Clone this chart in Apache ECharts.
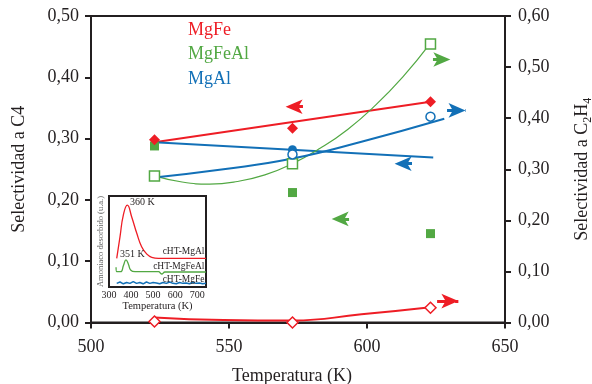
<!DOCTYPE html>
<html>
<head>
<meta charset="utf-8">
<script src="https://cdn.jsdelivr.net/npm/echarts@6/dist/echarts.min.js"></script>
<style>
  html, body { margin: 0; background: #fff; }
  #chart { width: 592px; height: 384px; }
</style>
</head>
<body>
<div id="chart"></div>
<script>
// temperaturas de reacción (K)
const temps = [523, 573, 623]

// selectividad a C4 (eje izquierdo, símbolos llenos)
const c4MgFe = [0.298, 0.317, 0.360]
const c4MgFeAl = [0.288, 0.212, 0.145]
const c4MgAl = [null, 0.282, null]

// selectividad a C2H4 (eje derecho, símbolos vacíos)
const c2MgFe = [0.002, 0.000, 0.029]
const c2MgFeAl = [0.287, 0.311, 0.545]
const c2MgAl = [null, 0.329, 0.403]

// líneas de tendencia
const fitC4MgFeT = [523, 623]
const fitC4MgFe = [0.294, 0.360]
const fitC4MgAlT = [523, 624]
const fitC4MgAl = [0.294, 0.269]
const fitC2MgFeAlT = [523, 533, 543, 553, 563, 573, 583, 593, 603, 613, 623]
const fitC2MgFeAl = [0.287, 0.275, 0.271, 0.276, 0.289, 0.311, 0.341, 0.378, 0.425, 0.481, 0.547]
const fitC2MgAlT = [523, 548, 573, 598, 628]
const fitC2MgAl = [0.284, 0.300, 0.321, 0.354, 0.399]
const fitC2MgFeT = [523, 548, 573, 598, 623]
const fitC2MgFe = [0.010, 0.005, 0.004, 0.016, 0.030]

// flechas (cola, punta) en unidades del eje izquierdo
const arrows = [
  { color: 'red', from: [576.8, 0.352], to: [567.4, 0.352] },
  { color: 'green', from: [623.9, 0.429], to: [633.3, 0.429] },
  { color: 'blue', from: [629.0, 0.346], to: [638.8, 0.346] },
  { color: 'blue', from: [616.3, 0.259], to: [606.9, 0.259] },
  { color: 'green', from: [593.5, 0.169], to: [584.1, 0.169] },
  { color: 'red', from: [625.4, 0.035], to: [636.2, 0.035] },
]

// recuadro TPD de amoniaco
const tpdT = [335, 350, 365, 383, 403, 426, 448, 471, 494, 524, 740]
const tpdMgAl = [31.5, 55.3, 79, 90, 77, 59, 44.3, 36.3, 32.6, 31.5, 31.5]
const tpdFeAlT = [332, 335, 353, 366, 377, 388, 398, 418, 524, 539, 554, 740]
const tpdMgFeAl = [21.6, 16.8, 16.8, 24, 29.7, 25, 18.7, 16.8, 16.8, 14.3, 16.5, 16.5]
const tpdFeT = [335, 350, 365, 380, 395, 410, 425, 440, 455, 470, 485, 500, 515, 530,
  545, 560, 575, 590, 605, 620, 635, 650, 665, 680, 695, 710, 725, 740]
const tpdMgFe = [4, 5.5, 3.5, 5, 4, 6, 4, 5, 3.5, 5.5, 4, 5, 4.5, 3.5,
  5, 4, 5.5, 4, 3.5, 5, 4, 4.5, 3.5, 5, 4, 4.5, 3.5, 4]

const legendNames = ['MgFe', 'MgFeAl', 'MgAl']

const ink = '#231f20'
const colors = { red: '#ee1d25', green: '#52a843', blue: '#1270b7' }
const serif = "'Liberation Serif', 'DejaVu Serif', serif"

const pairs = (xs, ys) => xs.map((x, i) => [x, ys[i]]).filter(p => p[1] != null)
const fmt = v => v.toFixed(2).replace('.', ',')

const chart = echarts.init(document.getElementById('chart'))

const headK = 3.1 // medio largo de la punta, en K
const arrowLines = arrows.map(a => {
  const dir = a.to[0] > a.from[0] ? 1 : -1
  return [
    { coord: a.from, symbol: 'none' },
    {
      coord: [a.to[0] - dir * headK, a.to[1]],
      symbol: 'arrow',
      symbolSize: [11, 17],
      lineStyle: { color: colors[a.color], width: 3 },
      itemStyle: { color: colors[a.color] },
    },
  ]
})

const axisCommon = {
  axisLine: { lineStyle: { color: ink, width: 2 } },
  axisTick: { length: 6, lineStyle: { color: ink, width: 2 } },
  splitLine: { show: false },
  nameLocation: 'middle',
  nameTextStyle: { color: ink, fontFamily: serif, fontSize: 18 },
}

const lineS = (name, xs, ys, color, width, yIdx) => ({
  name, type: 'line', xAxisIndex: 0, yAxisIndex: yIdx,
  data: pairs(xs, ys), smooth: true, symbol: 'none',
  lineStyle: { color, width }, z: 2,
})

const scatterS = (name, ys, symbol, size, color, open, yIdx) => ({
  name, type: 'scatter', xAxisIndex: 0, yAxisIndex: yIdx,
  data: pairs(temps, ys), symbol, symbolSize: size,
  itemStyle: open
    ? { color: '#fff', borderColor: color, borderWidth: 1.5, opacity: 1 }
    : { color, opacity: 1 },
  z: 4,
})

chart.setOption({
  animation: false,
  grid: [
    { left: 91, right: 87, top: 16, bottom: 61.5, show: true, borderColor: ink, borderWidth: 2,
      outerBoundsMode: 'none', containLabel: false },
    { left: 109, top: 196, width: 97, height: 91, show: true, borderColor: ink,
      borderWidth: 2, backgroundColor: '#fff', z: 5, outerBoundsMode: 'none', containLabel: false },
  ],
  xAxis: [
    {
      ...axisCommon, gridIndex: 0, type: 'value', min: 500, max: 650, interval: 50,
      axisLabel: { color: ink, fontFamily: serif, fontSize: 18, margin: 16 },
      name: 'Temperatura (K)', nameGap: 45,
      nameTextStyle: { ...axisCommon.nameTextStyle, padding: [0, 12, 0, 0] },
    },
    {
      gridIndex: 1, type: 'value', min: 300, max: 740, interval: 100, z: 6,
      axisLine: { show: false }, axisTick: { show: false }, splitLine: { show: false },
      axisLabel: { color: ink, fontFamily: serif, fontSize: 10, margin: 3, showMaxLabel: false },
      name: 'Temperatura (K)', nameLocation: 'middle', nameGap: 13,
      nameTextStyle: { color: ink, fontFamily: serif, fontSize: 10.5 },
    },
  ],
  yAxis: [
    {
      ...axisCommon, gridIndex: 0, type: 'value', min: 0, max: 0.5, interval: 0.1, position: 'left',
      axisLabel: { color: ink, fontFamily: serif, fontSize: 18, margin: 12, formatter: fmt },
      name: 'Selectividad a C4', nameGap: 63,
    },
    {
      ...axisCommon, gridIndex: 0, type: 'value', min: 0, max: 0.6, interval: 0.1, position: 'right',
      axisLabel: { color: ink, fontFamily: serif, fontSize: 18, margin: 13, formatter: fmt },
      name: '{n|Selectividad a C}{s|2}{n|H}{s|4}', nameGap: 65,
      nameTextStyle: {
        color: ink, fontFamily: serif, fontSize: 18,
        rich: {
          n: { fontFamily: serif, fontSize: 18, color: ink, lineHeight: 24 },
          s: { fontFamily: serif, fontSize: 12, color: ink, verticalAlign: 'bottom' },
        },
      },
    },
    {
      gridIndex: 1, type: 'value', min: 0, max: 100, z: 6,
      axisLine: { show: false }, axisTick: { show: false }, axisLabel: { show: false },
      splitLine: { show: false },
      name: 'Amoniaco desorbido (u.a.)', nameLocation: 'middle', nameGap: 4,
      nameTextStyle: { color: '#666', fontFamily: serif, fontSize: 8.5 },
    },
  ],
  graphic: [
    ...legendNames.map((t, i) => ({
      type: 'text', left: 188, top: 21 + i * 24.5,
      style: { text: t, fill: colors[['red', 'green', 'blue'][i]], font: `18px ${serif}` },
    })),
    { type: 'text', left: 130, top: 197, z: 20,
      style: { text: '360 K', fill: ink, font: `10px ${serif}` } },
    { type: 'text', left: 120, top: 249.5, z: 20,
      style: { text: '351 K', fill: ink, font: `10px ${serif}` } },
    ...[['cHT-MgAl', 246.5], ['cHT-MgFeAl', 261], ['cHT-MgFe', 274]].map(([t, y]) => ({
      type: 'text', right: 592 - 204.5, top: y, z: 20,
      style: { text: t, fill: ink, font: `9.5px ${serif}` },
    })),
  ],
  series: [
    lineS('MgFe C4 fit', fitC4MgFeT, fitC4MgFe, colors.red, 2, 0),
    lineS('MgAl C4 fit', fitC4MgAlT, fitC4MgAl, colors.blue, 2, 0),
    lineS('MgFeAl C2H4 fit', fitC2MgFeAlT, fitC2MgFeAl, colors.green, 1.2, 1),
    lineS('MgAl C2H4 fit', fitC2MgAlT, fitC2MgAl, colors.blue, 2, 1),
    lineS('MgFe C2H4 fit', fitC2MgFeT, fitC2MgFe, colors.red, 2, 1),
    scatterS('MgFeAl C4', c4MgFeAl, 'rect', 9, colors.green, false, 0),
    scatterS('MgAl C4', c4MgAl, 'circle', 9, colors.blue, false, 0),
    {
      ...scatterS('MgFe C4', c4MgFe, 'diamond', 11, colors.red, false, 0),
      markLine: {
        silent: true, animation: false, label: { show: false },
        symbol: ['none', 'arrow'], data: arrowLines,
      },
    },
    scatterS('MgFe C2H4', c2MgFe, 'diamond', 11, colors.red, true, 1),
    scatterS('MgFeAl C2H4', c2MgFeAl, 'rect', 10, colors.green, true, 1),
    scatterS('MgAl C2H4', c2MgAl, 'circle', 9, colors.blue, true, 1),
    {
      name: 'TPD MgAl', type: 'line', xAxisIndex: 1, yAxisIndex: 2, z: 10,
      data: pairs(tpdT, tpdMgAl), smooth: true, symbol: 'none',
      lineStyle: { color: colors.red, width: 1.3 },
    },
    {
      name: 'TPD MgFeAl', type: 'line', xAxisIndex: 1, yAxisIndex: 2, z: 10,
      data: pairs(tpdFeAlT, tpdMgFeAl), smooth: true, symbol: 'none',
      lineStyle: { color: colors.green, width: 1.3 },
    },
    {
      name: 'TPD MgFe', type: 'line', xAxisIndex: 1, yAxisIndex: 2, z: 10,
      data: pairs(tpdFeT, tpdMgFe), symbol: 'none',
      lineStyle: { color: colors.blue, width: 1.5 },
    },
  ],
})

window.addEventListener('resize', () => chart.resize())
</script>
</body>
</html>
